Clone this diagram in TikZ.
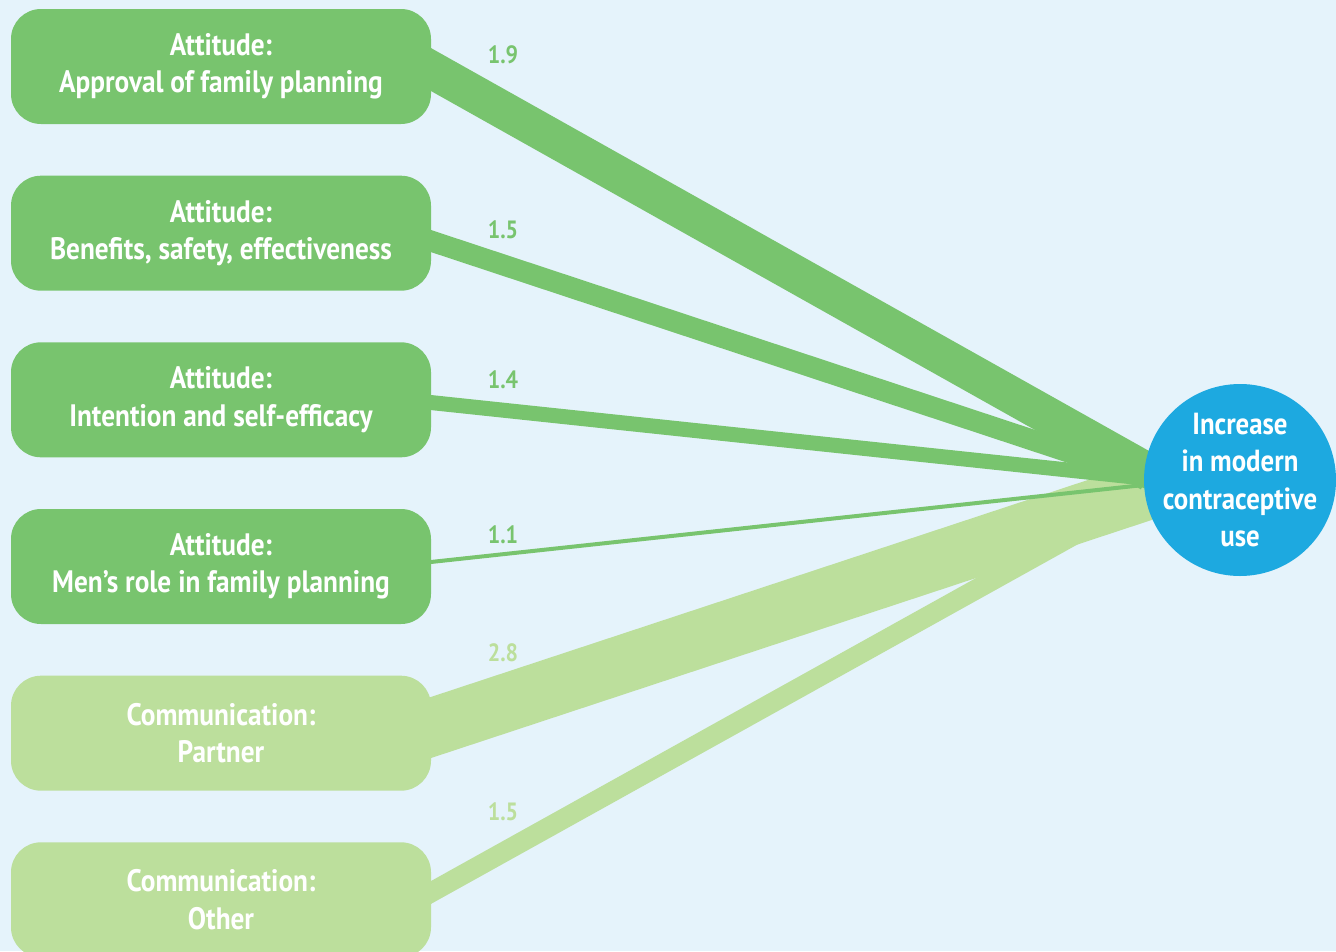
\documentclass[tikz,border=0pt]{standalone}
\usepackage{fontspec}
\newfontfamily\cond{PT Sans}[FakeStretch=0.88]
\definecolor{bgc}{RGB}{229,243,251}
\definecolor{dgreen}{RGB}{120,196,110}
\definecolor{lgreen}{RGB}{188,223,156}
\definecolor{cblue}{RGB}{29,169,224}
\tikzset{
  factor/.style={rounded corners=30pt, minimum width=420pt, minimum height=115pt,
    inner sep=0pt, align=center, text=white,
    font=\cond\bfseries\fontsize{31}{37.5}\selectfont},
  darkbox/.style={factor, fill=dgreen},
  lightbox/.style={factor, fill=lgreen},
  goal/.style={circle, fill=cblue, minimum size=192pt, inner sep=-9pt, align=center,
    text=white, font=\cond\bfseries\fontsize{30.5}{37.5}\selectfont},
  band/.style={line cap=butt},
  wlabel/.style={font=\cond\bfseries\fontsize{25}{25}\selectfont, inner sep=0pt}
}
\begin{document}
\begin{tikzpicture}[x=1pt,y=-1pt]
\fill[bgc] (0,0) rectangle (1336,951);
\useasboundingbox (0,0) rectangle (1336,951);

% node positions (drawn later, on top of the bands)
\coordinate (p1) at (221,66.5);
\coordinate (p2) at (221,233.2);
\coordinate (p3) at (221,399.8);
\coordinate (p4) at (221,566.5);
\coordinate (p5) at (221,733.2);
\coordinate (p6) at (221,899.8);
\coordinate (pg) at (1240,480);

% band start points (inside the boxes) and end points (under the circle)
\coordinate (s1) at ([shift={(170pt,19.4pt)}]p1);
\coordinate (s2) at ([shift={(170pt,5.4pt)}]p2);
\coordinate (s3) at ([shift={(170pt,1.5pt)}]p3);
\coordinate (s4) at ([shift={(170pt,0.2pt)}]p4);
\coordinate (s5) at ([shift={(170pt,-7.5pt)}]p5);
\coordinate (s6) at ([shift={(170pt,-14.9pt)}]p6);
\coordinate (e1) at ([shift={(-90pt,7pt)}]pg);
\coordinate (e2) at ([shift={(-90pt,1pt)}]pg);
\coordinate (e3) at ([shift={(-90pt,1.3pt)}]pg);
\coordinate (e4) at ([shift={(-90pt,-4.3pt)}]pg);
\coordinate (e5) at ([shift={(-90pt,-10pt)}]pg);
\coordinate (e6) at ([shift={(-90pt,-12.7pt)}]pg);

% bands
\draw[band, lgreen, line width=58pt] (s5) -- (e5);
\draw[band, lgreen, line width=20pt] (s6) -- (e6);
\draw[band, dgreen, line width=37.5pt] (s1) -- (e1);
\draw[band, dgreen, line width=21pt] (s2) -- (e2);
\draw[band, dgreen, line width=15pt] (s3) -- (e3);
\draw[band, dgreen, line width=4pt] (s4) -- (e4);

% nodes
\node[darkbox]  (b1) at (p1) {Attitude:\\Approval of family planning};
\node[darkbox]  (b2) at (p2) {Attitude:\\Benefits, safety, effectiveness};
\node[darkbox]  (b3) at (p3) {Attitude:\\Intention and self-efficacy};
\node[darkbox]  (b4) at (p4) {Attitude:\\Men’s role in family planning};
\node[lightbox] (b5) at (p5) {Communication:\\Partner};
\node[lightbox] (b6) at (p6) {Communication:\\Other};
\node[goal]     (g)  at (pg) {Increase\\in modern\\contraceptive\\use};

% weight labels
\node[wlabel, text=dgreen] (l1) at (503,55)  {1.9};
\node[wlabel, text=dgreen] (l2) at (503,230) {1.5};
\node[wlabel, text=dgreen] (l3) at (503,380) {1.4};
\node[wlabel, text=dgreen] (l4) at (503,535) {1.1};
\node[wlabel, text=lgreen] (l5) at (503,653) {2.8};
\node[wlabel, text=lgreen] (l6) at (503,812) {1.5};
\end{tikzpicture}
\end{document}
